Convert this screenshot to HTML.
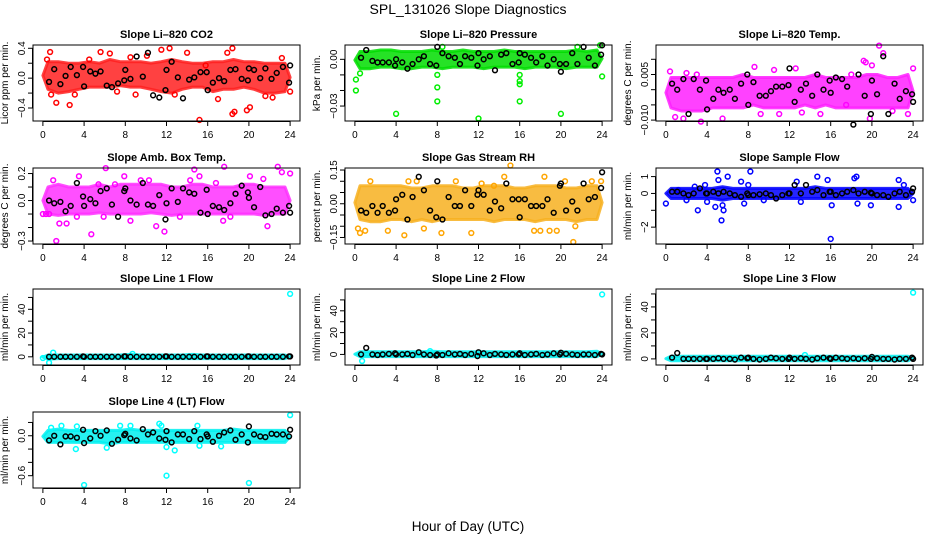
<!DOCTYPE html>
<html><head><meta charset="utf-8"><style>
html,body{margin:0;padding:0;background:#fff;width:936px;height:540px;overflow:hidden}
svg text{font-family:"Liberation Sans",sans-serif;fill:#000}
</style></head><body>
<svg id="chart" width="936" height="540" viewBox="0 0 936 540" xmlns="http://www.w3.org/2000/svg">
<text x="468" y="14" text-anchor="middle" font-size="14">SPL_131026  Slope Diagnostics</text>
<text x="468" y="531" text-anchor="middle" font-size="13.5">Hour of Day (UTC)</text>
</svg>
<script>
const blackHours=[0.6,1.1,1.7,2.2,2.7,3.3,3.9,4.0,4.6,5.1,5.6,6.2,6.7,7.3,7.9,8.0,8.5,9.1,9.7,10.2,10.7,11.3,11.9,12.0,12.5,13.1,13.6,14.2,14.7,15.3,15.9,16.0,16.5,17.1,17.6,18.2,18.7,19.3,19.9,20.0,20.5,21.1,21.6,22.2,22.7,23.3,23.9,24.0];
const xTicks=[0,4,8,12,16,20,24];

const co2Black=[-0.05,0.12,-0.08,0.03,0.15,0.04,0.15,-0.11,0.09,0.06,0.09,-0.10,-0.12,-0.07,-0.03,0.11,-0.01,0.29,0.02,0.34,-0.23,-0.26,-0.16,0.11,0.22,0.01,-0.27,-0.02,0.01,0.08,0.08,-0.16,-0.06,0.00,-0.04,0.11,0.12,-0.01,-0.03,0.13,0.11,0.00,0.13,-0.01,0.07,0.15,-0.06,0.17];
const co2Lo=[-0.15,-0.2,-0.18,-0.15,-0.12,-0.12,-0.12,-0.1,-0.12,-0.12,-0.15,-0.18,-0.2,-0.15,-0.12,-0.12,-0.18,-0.15,-0.15,-0.12,-0.15,-0.2,-0.2,-0.18];
const co2Hi=[0.22,0.22,0.2,0.2,0.22,0.2,0.25,0.22,0.22,0.22,0.2,0.22,0.25,0.22,0.2,0.2,0.22,0.22,0.25,0.22,0.22,0.2,0.2,0.2];
const co2Out=[[0.4,0.25],[0.7,0.35],[1.3,-0.33],[2.6,-0.36],[3.1,-0.22],[4.5,0.25],[5.6,0.35],[6.5,0.33],[7.2,-0.18],[8.5,0.28],[10.1,0.3],[11.5,0.38],[12.3,0.40],[14.0,0.34],[15.2,-0.56],[15.8,0.17],[17.0,-0.28],[17.9,0.34],[18.4,0.40],[18.4,-0.48],[18.6,-0.45],[19.8,-0.43],[20.1,-0.39],[21.6,-0.24],[22.3,-0.26],[23.2,0.27],[24.0,-0.18],[0.8,-0.22],[9.0,-0.22],[12.8,-0.22]];

const presBlack=[0.001,0.006,-0.001,-0.002,-0.002,-0.002,-0.004,0.0,-0.002,-0.006,-0.003,0.0,0.002,-0.003,-0.004,0.008,0.004,0.002,0.001,-0.003,0.002,0.001,-0.004,0.004,0.0,0.002,-0.007,0.003,0.004,-0.003,-0.002,0.004,0.003,0.001,-0.002,0.002,-0.004,0.0,-0.003,-0.008,-0.003,0.004,-0.003,0.008,0.001,-0.004,0.003,0.009];
const presLo=[-0.006,-0.006,-0.005,-0.005,-0.006,-0.006,-0.005,-0.005,-0.006,-0.005,-0.005,-0.005,-0.006,-0.005,-0.005,-0.005,-0.006,-0.005,-0.005,-0.005,-0.006,-0.005,-0.005,-0.005];
const presHi=[0.005,0.005,0.006,0.006,0.005,0.005,0.005,0.006,0.005,0.005,0.006,0.005,0.005,0.005,0.006,0.005,0.005,0.005,0.005,0.005,0.005,0.006,0.005,0.006];
const presOut=[[0.1,-0.013],[0.1,-0.020],[4.0,-0.035],[8.0,-0.010],[8.0,-0.018],[8.0,-0.027],[12.0,-0.038],[16.0,-0.010],[16.0,-0.014],[16.0,-0.016],[16.0,-0.027],[20.0,-0.035],[24.0,-0.011],[0.5,-0.009],[8.5,0.008],[21.6,0.008],[23.8,0.009]];

const tempBlack=[0.002,0.0,0.0035,-0.008,0.0035,0.0,0.003,-0.0065,-0.003,0.0,-0.001,0.0,-0.003,0.002,0.005,-0.005,0.0025,-0.002,-0.002,-0.0005,0.001,0.001,0.0015,0.007,-0.004,0.0,0.002,-0.002,0.005,0.0,0.003,-0.001,0.004,0.0035,0.001,-0.0115,0.005,-0.002,-0.008,0.003,-0.0015,0.011,-0.008,0.002,-0.003,-0.0005,-0.0015,-0.004];
const tempLo=[-0.006,-0.007,-0.007,-0.007,-0.006,-0.006,-0.006,-0.006,-0.005,-0.006,-0.006,-0.006,-0.006,-0.005,-0.006,-0.005,-0.006,-0.006,-0.006,-0.006,-0.006,-0.006,-0.006,-0.006];
const tempHi=[0.004,0.004,0.004,0.004,0.004,0.004,0.004,0.005,0.004,0.004,0.004,0.004,0.004,0.004,0.005,0.004,0.004,0.004,0.004,0.005,0.005,0.004,0.004,0.005];
const tempOut=[[0.4,0.006],[0.9,-0.009],[1.7,-0.0095],[2.0,0.0055],[3.4,-0.0105],[5.5,-0.0095],[8.6,0.0075],[9.2,-0.008],[10.5,0.0065],[11.0,-0.008],[12.6,0.007],[13.2,-0.0075],[15.0,-0.008],[17.5,-0.005],[18.0,0.005],[19.2,0.0095],[19.4,0.009],[19.8,-0.0095],[20.0,0.008],[20.7,0.0145],[21.1,0.012],[22.0,-0.007],[23.5,-0.008],[24.0,0.007],[3.0,0.005]];

const ambBlack=[0.0,-0.02,-0.01,-0.08,-0.04,0.13,0.03,-0.04,0.01,-0.02,0.07,0.09,-0.03,-0.12,0.07,0.09,0.0,-0.03,0.13,-0.03,-0.04,0.04,-0.14,-0.02,0.09,-0.01,0.09,0.06,0.05,-0.09,0.08,-0.1,-0.04,-0.05,-0.07,-0.02,0.05,0.11,0.06,0.02,-0.05,0.10,-0.11,-0.1,-0.06,-0.09,-0.04,-0.09];
const ambLo=[-0.1,-0.11,-0.1,-0.1,-0.1,-0.09,-0.1,-0.1,-0.1,-0.1,-0.09,-0.1,-0.11,-0.1,-0.1,-0.1,-0.1,-0.1,-0.1,-0.1,-0.1,-0.11,-0.1,-0.1];
const ambHi=[0.1,0.12,0.1,0.1,0.1,0.12,0.1,0.12,0.12,0.12,0.12,0.12,0.1,0.1,0.12,0.12,0.1,0.1,0.1,0.12,0.12,0.1,0.1,0.1];
const ambOut=[[0,-0.1],[0.6,-0.1],[1.0,0.15],[1.3,-0.3],[1.6,-0.17],[2.3,-0.17],[3.5,0.18],[4.7,-0.25],[5.4,0.12],[6.1,0.24],[7.0,0.12],[7.9,0.18],[8.5,-0.15],[9.5,0.15],[10.3,0.15],[11.0,-0.19],[11.8,-0.23],[13.3,-0.12],[14.3,0.15],[14.7,0.23],[15.2,0.18],[16.8,0.13],[17.5,-0.15],[17.6,0.25],[18.2,-0.12],[20.1,0.18],[21.4,0.16],[21.8,-0.19],[22.8,0.25],[23.2,0.21],[24.0,0.2],[0.3,-0.1],[3.3,-0.12],[5.9,-0.12]];

const rhBlack=[-0.03,-0.04,-0.01,-0.04,-0.01,-0.04,-0.03,0.02,0.04,-0.07,0.03,0.12,0.06,-0.03,-0.06,0.10,-0.07,0.03,-0.01,-0.01,0.06,-0.01,0.04,0.06,0.04,-0.03,0.01,-0.02,0.09,0.02,0.02,-0.06,0.02,-0.01,-0.01,-0.01,0.02,-0.04,0.08,0.09,-0.03,0.01,-0.03,0.09,0.02,0.03,0.07,0.14];
const rhLo=[-0.07,-0.08,-0.08,-0.07,-0.07,-0.08,-0.07,-0.08,-0.07,-0.07,-0.07,-0.07,-0.07,-0.08,-0.07,-0.07,-0.07,-0.08,-0.07,-0.07,-0.07,-0.08,-0.07,-0.07];
const rhHi=[0.08,0.08,0.08,0.08,0.08,0.07,0.07,0.08,0.08,0.08,0.07,0.07,0.08,0.08,0.08,0.07,0.07,0.08,0.08,0.08,0.07,0.07,0.08,0.08];
const rhOut=[[0.3,-0.11],[0.5,-0.13],[1.0,-0.12],[1.5,0.1],[3.2,-0.12],[4.8,-0.14],[5.2,0.1],[6.0,0.1],[6.7,-0.11],[8.4,-0.13],[9.8,0.1],[11.3,-0.13],[12.3,0.09],[13.5,0.08],[14.5,0.12],[15.1,0.17],[17.4,-0.12],[18.0,-0.12],[18.4,0.12],[18.9,-0.12],[19.6,-0.12],[20.4,0.1],[21.2,-0.17],[21.4,-0.1],[23.0,0.1],[23.9,0.1]];

const sfBlack=[0.1,0.1,0.0,-0.1,0.0,0.3,0.0,0.0,0.1,0.0,0.1,0.0,-0.1,-0.2,0.0,-0.1,-0.1,-0.05,0.0,-0.1,-0.3,-0.1,0.0,0.0,0.5,0.0,0.5,0.1,0.2,-0.1,0.1,0.1,-0.1,0.0,0.1,0.2,0.0,0.1,0.05,0.0,-0.1,-0.1,-0.2,0.0,0.1,-0.1,0.1,0.3];
const sfLo=[-0.3,-0.3,-0.3,-0.3,-0.3,-0.4,-0.3,-0.3,-0.3,-0.3,-0.3,-0.3,-0.3,-0.3,-0.3,-0.3,-0.3,-0.3,-0.3,-0.3,-0.3,-0.3,-0.3,-0.3];
const sfHi=[0.3,0.3,0.3,0.3,0.3,0.4,0.3,0.3,0.3,0.3,0.3,0.3,0.3,0.3,0.4,0.3,0.3,0.3,0.3,0.3,0.3,0.3,0.3,0.3];
const sfOut=[[0,-0.6],[2.0,-0.4],[2.8,0.4],[3.1,-1.0],[3.8,0.5],[4.0,-0.5],[4.8,-0.8],[5.0,1.3],[5.1,0.8],[5.4,-1.6],[5.5,-0.7],[5.6,-1.0],[6.0,1.0],[7.3,0.7],[7.6,-0.6],[8.2,1.3],[8.0,0.5],[12.7,0.7],[14.7,1.0],[15.7,0.8],[16.0,-2.7],[16.1,-0.7],[18.3,0.9],[18.5,1.0],[18.6,-0.6],[19.9,-0.7],[22.6,0.8],[22.6,-0.8],[23.1,0.5],[24.0,-0.4],[13.1,-0.5],[9.5,-0.4],[1.2,0.2]];

const l1Black=[0,0,0,0,0,0,0.3,0,0,0,0,0,0,0,0.3,0.3,0,0,0,0,0,0,0.3,0.3,0,0,0,0,0,0,0.3,0.3,0,0,0,0,0,0,0.3,0.3,0,0,0,0,0,0,0.3,0.3];
const l1Lo=[-2,-1.5,-1.5,-1.5,-1.5,-1.5,-1.5,-1.5,-1.5,-1.5,-1.5,-1.5,-1.5,-1.5,-1.5,-1.5,-1.5,-1.5,-1.5,-1.5,-1.5,-1.5,-1.5,-1.5];
const l1Hi=[1.5,1.5,1.5,1.5,1.5,1.5,1.5,1.5,2,1.5,1.5,1.5,1.5,1.5,2,1.5,1.5,1.5,1.5,1.5,1.5,1.5,1.5,1.5];
const l1Out=[[0.0,-1],[0.6,-5],[1.0,3.5],[8.7,2.5],[24.0,53]];

const l2Black=[0,6,0,-0.5,0,0.5,1,0,0,0.5,-0.5,2,0,-0.5,-1,0,-0.5,1,0,0.5,-0.5,0.5,-1.5,2,1,-0.5,0.5,0,-0.5,0,0,1,-0.5,0,0.5,-0.5,0,1,0,1.5,0.5,0,-0.5,0,0,-0.5,0.5,0];
const l2Lo=[-2,-2,-2,-2,-2,-2,-2,-2,-2,-2,-2,-2,-2,-2,-2,-2,-2,-2,-2,-2,-2,-2,-2,-2];
const l2Hi=[2.5,2.5,2.5,2.5,2.5,2.5,2.5,3,2.5,2.5,2.5,2.5,2.5,2.5,2.5,2.5,2.5,2.5,2.5,2.5,2.5,2.5,2.5,3];
const l2Out=[[0.7,-6],[24.0,55],[7.3,3]];

const l3Black=[1,4.5,0,0,0,0,0,0,0,0.5,0,0,-0.5,1,0.5,1,0,-0.5,0,1,0.5,0,0,1,0,0.5,0,-0.5,0.5,1,0.5,0,1,0.5,0,0.5,0,0.5,0,1.5,0.5,0,0,-0.5,0,0,1,0];
const l3Lo=[-1.5,-1.5,-1.5,-1.5,-1.5,-1.5,-1.5,-1.5,-1.5,-1.5,-1.5,-1.5,-1.5,-1.5,-1.5,-1.5,-1.5,-1.5,-1.5,-1.5,-1.5,-1.5,-1.5,-1.5];
const l3Hi=[2,2,2,2,2,2,2,2,2,2,2,2,2,2,2,2,2,2,2,2,2,2,2,2];
const l3Out=[[24.0,51],[13.5,3]];

const l4Black=[-0.07,0.0,-0.13,-0.01,-0.01,-0.03,0.09,-0.11,-0.04,0.07,0.0,0.08,-0.12,-0.06,0.01,0.03,-0.04,-0.07,0.1,0.02,0.05,-0.04,-0.06,0.07,-0.1,0.02,0.02,-0.05,0.07,-0.05,0.02,-0.01,-0.09,0.0,0.05,0.08,-0.06,0.02,-0.1,0.14,0.02,-0.01,-0.02,0.03,0.02,0.02,-0.01,0.09];
const l4Lo=[-0.1,-0.1,-0.1,-0.1,-0.1,-0.1,-0.12,-0.1,-0.1,-0.1,-0.1,-0.1,-0.1,-0.1,-0.1,-0.1,-0.1,-0.1,-0.1,-0.1,-0.1,-0.1,-0.1,-0.1];
const l4Hi=[0.08,0.1,0.08,0.08,0.08,0.08,0.08,0.08,0.1,0.08,0.08,0.08,0.08,0.08,0.08,0.08,0.08,0.08,0.1,0.08,0.08,0.08,0.08,0.08];
const l4Out=[[0.8,0.12],[1.8,0.15],[3.3,0.14],[3.2,-0.2],[4.0,-0.74],[7.5,0.15],[8.5,0.15],[11.3,0.18],[11.5,0.15],[12.0,-0.6],[12.0,-0.17],[12.8,-0.22],[15.0,0.15],[15.2,-0.15],[17.3,-0.16],[20.0,-0.71],[24.0,0.31],[6.2,-0.18]];

const panels=[
 {name:'co2',title:'Slope Li\u2013820 CO2',ylab:'Licor ppm per min.',col:0,row:0,y0:-0.574,y1:0.444,ticks:[-0.4,-0.2,0,0.2,0.4],labels:[-0.4,0,0.4],fmt:1,color:'#ff0000',band:'#ff2020',lo:co2Lo,hi:co2Hi,out:co2Out,black:co2Black},
 {name:'pressure',title:'Slope Li\u2013820 Pressure',ylab:'kPa per min.',col:1,row:0,y0:-0.0396,y1:0.0092,ticks:[-0.03,-0.02,-0.01,0],labels:[-0.03,0],fmt:2,color:'#00ee00',band:'#00dd00',lo:presLo,hi:presHi,out:presOut,black:presBlack},
 {name:'temp',title:'Slope Li\u2013820 Temp.',ylab:'degrees C per min.',col:2,row:0,y0:-0.0103,y1:0.0147,ticks:[-0.01,-0.005,0,0.005,0.01],labels:[-0.01,0.005],fmt:3,color:'#ff00ff',band:'#ff20ff',lo:tempLo,hi:tempHi,out:tempOut,black:tempBlack},
 {name:'amb-temp',title:'Slope Amb. Box Temp.',ylab:'degrees C per min.',col:0,row:1,y0:-0.322,y1:0.241,ticks:[-0.3,-0.2,-0.1,0,0.1,0.2],labels:[-0.3,0,0.2],fmt:1,color:'#ff00ff',band:'#ff30ff',lo:ambLo,hi:ambHi,out:ambOut,black:ambBlack},
 {name:'rh',title:'Slope Gas Stream RH',ylab:'percent per min.',col:1,row:1,y0:-0.179,y1:0.159,ticks:[-0.15,-0.1,-0.05,0,0.05,0.1,0.15],labels:[-0.15,0,0.15],fmt:2,color:'#ffa500',band:'#f7b020',lo:rhLo,hi:rhHi,out:rhOut,black:rhBlack},
 {name:'sample-flow',title:'Slope Sample Flow',ylab:'ml/min per min.',col:2,row:1,y0:-3.0,y1:1.51,ticks:[-2,-1,0,1],labels:[-2,0,1],fmt:0,color:'#0000ff',band:'#0000ff',lo:sfLo,hi:sfHi,out:sfOut,black:sfBlack},
 {name:'line1',title:'Slope Line 1 Flow',ylab:'ml/min per min.',col:0,row:2,y0:-6.9,y1:57.1,ticks:[0,10,20,30,40,50],labels:[0,20,40],fmt:0,color:'#00ffff',band:'#00f0f0',lo:l1Lo,hi:l1Hi,out:l1Out,black:l1Black},
 {name:'line2',title:'Slope Line 2 Flow',ylab:'ml/min per min.',col:1,row:2,y0:-9.7,y1:60,ticks:[0,10,20,30,40,50],labels:[0,20,40],fmt:0,color:'#00ffff',band:'#00f0f0',lo:l2Lo,hi:l2Hi,out:l2Out,black:l2Black},
 {name:'line3',title:'Slope Line 3 Flow',ylab:'ml/min per min.',col:2,row:2,y0:-4.7,y1:53.8,ticks:[0,10,20,30,40,50],labels:[0,20,40],fmt:0,color:'#00ffff',band:'#00f0f0',lo:l3Lo,hi:l3Hi,out:l3Out,black:l3Black},
 {name:'line4',title:'Slope Line 4 (LT) Flow',ylab:'ml/min per min.',col:0,row:3,y0:-0.785,y1:0.357,ticks:[-0.6,-0.4,-0.2,0,0.2],labels:[-0.6,0],fmt:1,color:'#00ffff',band:'#00f0f0',lo:l4Lo,hi:l4Hi,out:l4Out,black:l4Black}
];
const colX=[33,345,656], rowY=[45,168,289,412], PW=267, PH=76;
const svg=document.getElementById('chart');
const NS='http://www.w3.org/2000/svg';
function mk(tag,attrs,parent){const e=document.createElementNS(NS,tag);for(const k in attrs)e.setAttribute(k,attrs[k]);parent.appendChild(e);return e;}

panels.forEach(p=>{
  const L=colX[p.col], T=rowY[p.row];
  const xs=h=>L+PW*(0.04/1.08)+(h/24)*PW/1.08;
  const ys=v=>T+PH-(v-p.y0)/(p.y1-p.y0)*PH;
  const g=mk('g',{},svg);
  
  
  const t=mk('text',{x:L+PW/2,y:T-7,'text-anchor':'middle','font-size':'11','font-weight':'bold'},g);
  
  
  t.textContent=p.title;
  const yl=mk('text',{x:0,y:0,'text-anchor':'middle','font-size':'10',transform:`translate(${L-25},${T+PH/2}) rotate(-90)`},g);
  
  
  yl.textContent=p.ylab;
  // band as smooth area polygon
  let top=[],bot=[];
  p.hi.forEach((v,i)=>top.push(`${xs(i+0.5).toFixed(1)},${ys(v).toFixed(1)}`));
  p.lo.forEach((v,i)=>bot.push(`${xs(i+0.5).toFixed(1)},${ys(v).toFixed(1)}`));
  const first=`${xs(0).toFixed(1)},${ys((p.hi[0]+p.lo[0])/2).toFixed(1)}`;
  const n=p.hi.length;
  const last=`${xs(24).toFixed(1)},${ys((p.hi[n-1]+p.lo[n-1])/2).toFixed(1)}`;
  const poly=mk('polygon',{points:[first].concat(top,[last],bot.reverse()).join(' '),fill:p.band,'fill-opacity':'0.85',stroke:p.band,'stroke-width':3,'stroke-linejoin':'round','stroke-opacity':'0.85'},g);
  
  
  p.out.forEach(d=>{
    const c=mk('circle',{cx:xs(d[0]),cy:ys(d[1]),r:2.4,fill:'none',stroke:p.color,'stroke-width':1.5},g);
    
    
  });
  p.black.forEach((v,i)=>{
    if(i>=blackHours.length)return;
    const c=mk('circle',{cx:xs(blackHours[i]),cy:ys(v),r:2.4,fill:'none',stroke:'#000','stroke-width':1.5},g);
    
    
  });
  const b=mk('rect',{x:L,y:T,width:PW,height:PH,fill:'none',stroke:'#000','stroke-width':1},g);
  
  
  mk('line',{x1:xs(0),x2:xs(24),y1:T+PH+0.5,y2:T+PH+0.5,stroke:'#000'},g);
  xTicks.forEach(h=>{
    mk('line',{x1:xs(h),x2:xs(h),y1:T+PH,y2:T+PH+5,stroke:'#000'},g);
    const tl=mk('text',{x:xs(h),y:T+PH+17,'text-anchor':'middle','font-size':'10'},g);
    
    
    tl.textContent=h;
  });
  const ya=p.ticks;
  mk('line',{x1:L-0.5,x2:L-0.5,y1:ys(ya[0]),y2:ys(ya[ya.length-1]),stroke:'#000'},g);
  ya.forEach(v=>mk('line',{x1:L-5,x2:L,y1:ys(v),y2:ys(v),stroke:'#000'},g));
  p.labels.forEach(v=>{
    const tl=mk('text',{x:0,y:0,'text-anchor':'middle','font-size':'10',transform:`translate(${L-8},${ys(v)}) rotate(-90)`},g);
    
    
    tl.textContent=v.toFixed(p.fmt).replace('-','\u2212');
  });
});
</script>
</body></html>
